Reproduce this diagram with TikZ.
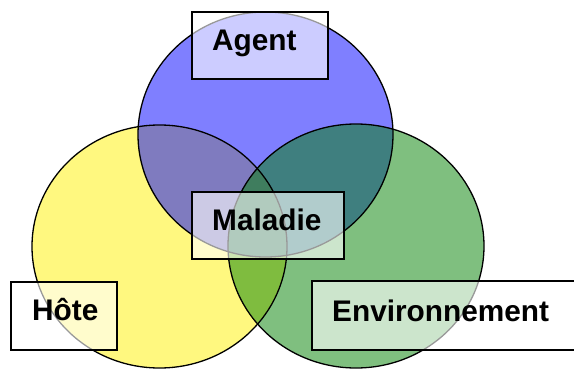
\documentclass[tikz,border=0pt]{standalone}
\usepackage{fontspec}
\setmainfont{Liberation Sans}
\begin{document}
\begin{tikzpicture}[x=1pt,y=-1pt,
  labelbox/.style={draw=black, line width=1.7pt, fill=white, fill opacity=0.6, draw opacity=1, inner sep=0pt, rectangle},
  word/.style={anchor=base west, inner sep=0pt, font=\fontsize{29.8}{32}\selectfont\bfseries}]
\useasboundingbox (0,0) rectangle (574,370);
\clip (0,0) rectangle (574,370);
% circles
\fill[yellow, fill opacity=0.5] (159.5,246.5) ellipse [x radius=127.5pt, y radius=121.5pt];
\fill[blue, fill opacity=0.5] (265.5,134.5) ellipse [x radius=127.5pt, y radius=122.5pt];
\fill[green!50!black, fill opacity=0.5] (356,246) ellipse [x radius=128pt, y radius=122pt];
\draw[line width=1.3pt] (159.5,246.5) ellipse [x radius=127.5pt, y radius=121.5pt];
\draw[line width=1.3pt] (265.5,134.5) ellipse [x radius=127.5pt, y radius=122.5pt];
\draw[line width=1.3pt] (356,246) ellipse [x radius=128pt, y radius=122pt];
% boxes
\node[labelbox, minimum width=136pt, minimum height=67pt] (agentbox) at (260,45.5) {};
\node[labelbox, minimum width=152pt, minimum height=67pt] (maladiebox) at (268,225.5) {};
\node[labelbox, minimum width=106pt, minimum height=68pt] (hotebox) at (64,316) {};
\node[labelbox, minimum width=288pt, minimum height=69pt] (envbox) at (456,315.5) {};
% texts
\node[word] (agent) at (212,50) {Agent};
\node[word] (maladie) at (212,230) {Maladie};
\node[word] (hote) at (32,320) {Hôte};
\node[word] (env) at (332,321) {Environnement};
\end{tikzpicture}
\end{document}
